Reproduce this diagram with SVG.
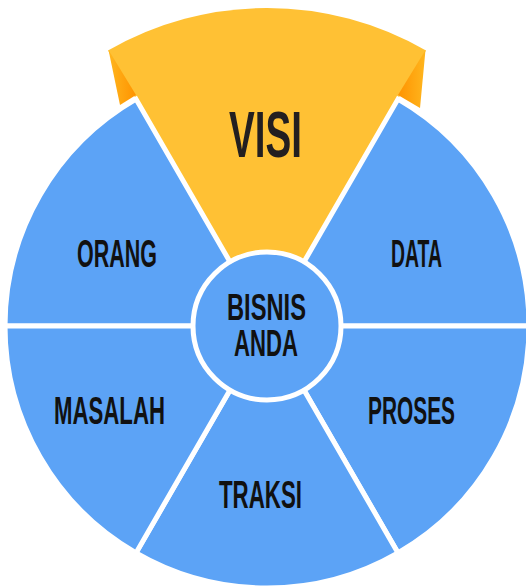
<svg xmlns="http://www.w3.org/2000/svg" width="526" height="586" viewBox="0 0 526 586">
  <style>
    .sec { fill: #5CA3F6; stroke: #FFFFFF; stroke-width: 5; stroke-linejoin: miter; }
    .lbl { font-family: "Liberation Sans", Arial, sans-serif; font-weight: bold; font-size: 38px; fill: #111111; text-anchor: middle; }
    .big { font-size: 64px; fill: #231F20; }
  </style>
  <defs>
    <linearGradient id="flapL" x1="0" y1="0" x2="1" y2="0">
      <stop offset="0" stop-color="#FFB61E"/>
      <stop offset="1" stop-color="#FF9300"/>
    </linearGradient>
    <linearGradient id="flapR" x1="0" y1="0" x2="1" y2="0">
      <stop offset="0" stop-color="#FF9300"/>
      <stop offset="1" stop-color="#FFB61E"/>
    </linearGradient>
  </defs>
  <rect width="526" height="586" fill="#FFFFFF"/>

  <g id="visi">
    <path d="M267,326 L108,50.6 A318,318 0 0 1 426,50.6 Z" fill="#FFC134"/>
    <polygon points="108.5,50 136,95 120,105" fill="url(#flapL)"/>
    <polygon points="425.5,50 398,95 420,108" fill="url(#flapR)"/>
    <text class="lbl big" x="265.5" y="157" textLength="73" lengthAdjust="spacingAndGlyphs">VISI</text>
  </g>

  <g id="orang">
    <path class="sec" d="M267,326 L5,326 A262,262 0 0 1 136,99.1 Z"/>
    <text class="lbl" x="117" y="267" textLength="80" lengthAdjust="spacingAndGlyphs">ORANG</text>
  </g>
  <g id="data">
    <path class="sec" d="M267,326 L398,99.1 A262,262 0 0 1 529,326 Z"/>
    <text class="lbl" x="416.5" y="267" textLength="51" lengthAdjust="spacingAndGlyphs">DATA</text>
  </g>
  <g id="proses">
    <path class="sec" d="M267,326 L529,326 A262,262 0 0 1 398,552.9 Z"/>
    <text class="lbl" x="411.5" y="424" textLength="87" lengthAdjust="spacingAndGlyphs">PROSES</text>
  </g>
  <g id="traksi">
    <path class="sec" d="M267,326 L398,552.9 A262,262 0 0 1 136,552.9 Z"/>
    <text class="lbl" x="260.5" y="508" textLength="83" lengthAdjust="spacingAndGlyphs">TRAKSI</text>
  </g>
  <g id="masalah">
    <path class="sec" d="M267,326 L136,552.9 A262,262 0 0 1 5,326 Z"/>
    <text class="lbl" x="109.5" y="424" textLength="111" lengthAdjust="spacingAndGlyphs">MASALAH</text>
  </g>

  <g id="bisnis-anda">
    <circle cx="267" cy="326" r="74" fill="#5CA3F6" stroke="#FFFFFF" stroke-width="5"/>
    <text class="lbl" style="font-size:37px"><tspan x="266.5" y="320" textLength="79" lengthAdjust="spacingAndGlyphs">BISNIS</tspan><tspan x="266" y="356" textLength="64" lengthAdjust="spacingAndGlyphs">ANDA</tspan></text>
  </g>
</svg>
